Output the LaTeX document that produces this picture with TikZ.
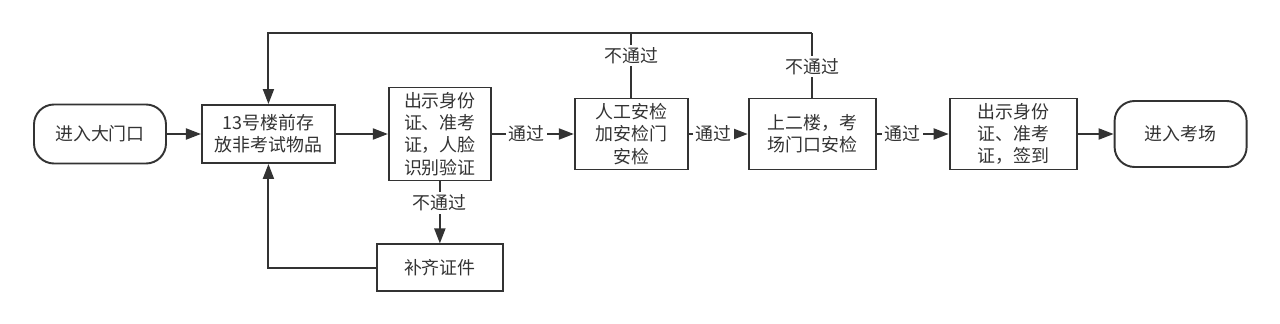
\documentclass[tikz,border=0pt]{standalone}
\usepackage{fontspec}
\setmainfont{Noto Sans CJK SC}
\usetikzlibrary{
  arrows.meta,
  positioning,
  calc
}
\definecolor{flowgray}{RGB}{51,51,51}
\tikzset{
  gatebox/.style={
    draw=flowgray, line width=1.1pt,
    rounded corners=0.4cm, minimum width=2.64cm,
    minimum height=1.18cm, align=center, inner sep=2pt,
    font=\fontsize{10.2pt}{12.6pt}\selectfont\color{flowgray}
  },
  procbox/.style={
    draw=flowgray, line width=1.1pt,
    minimum height=1.42cm, align=center, inner sep=2pt,
    font=\fontsize{10.2pt}{12.6pt}\selectfont\color{flowgray}
  },
  flowline/.style={
    draw=flowgray, line width=1.1pt
  },
  flowarrow/.style={
    -{Triangle[length=0.3cm,width=0.22cm]},
    draw=flowgray, line width=1.1pt
  },
  flowlabel/.style={
    font=\fontsize{10.2pt}{12.6pt}\selectfont\color{flowgray},
    fill=white, inner sep=1.5pt
  },
}
\begin{document}
\begin{tikzpicture}

  \useasboundingbox (0,0) rectangle (25.6,6.46);

  %% main row
  \node[gatebox] (start) at (2.0,3.78) {进入大门口};
  \node[procbox, right=0.68cm of start, minimum width=2.66cm, minimum height=1.16cm] (store)
    {13号楼前存\\放非考试物品};
  \node[procbox, right=1.04cm of store, minimum width=2.04cm, minimum height=1.86cm] (verify)
    {出示身份\\证、准考\\证，人脸\\识别验证};
  \node[procbox, right=1.64cm of verify, minimum width=2.26cm] (sec)
    {人工安检\\加安检门\\安检};
  \node[procbox, right=1.18cm of sec, minimum width=2.54cm] (floor)
    {上二楼，考\\场门口安检};
  \node[procbox, right=1.44cm of floor, minimum width=2.54cm] (sign)
    {出示身份\\证、准考\\证，签到};
  \node[gatebox, right=0.72cm of sign, minimum height=1.32cm] (exam) {进入考场};

  %% side branch
  \node[procbox, below=1.24cm of verify, minimum width=2.52cm, minimum height=0.94cm] (fix)
    {补齐证件};
  \coordinate[above=1.42cm of store.north] (top);

  \draw[flowarrow] (start) -- (store);
  \draw[flowarrow] (store) -- (verify);
  \draw[flowarrow] (verify) -- node[flowlabel, pos=0.42] {通过} (sec);
  \draw[flowarrow] (sec) -- node[flowlabel, pos=0.42] {通过} (floor);
  \draw[flowarrow] (floor) -- node[flowlabel, pos=0.36] {通过} (sign);
  \draw[flowarrow] (sign) -- (exam);

  \draw[flowarrow] (verify) -- node[flowlabel, pos=0.35] {不通过} (fix);
  \draw[flowarrow] (fix.west) -| (store.south);

  %% failed checks go back
  \draw[flowline] (sec.north) -- node[flowlabel, pos=0.65] {不通过} (sec.north |- top);
  \draw[flowline] (floor.north) -- node[flowlabel, pos=0.48] {不通过} (floor.north |- top);
  \draw[flowarrow] (floor.north |- top) -| (store.north);

\end{tikzpicture}
\end{document}
